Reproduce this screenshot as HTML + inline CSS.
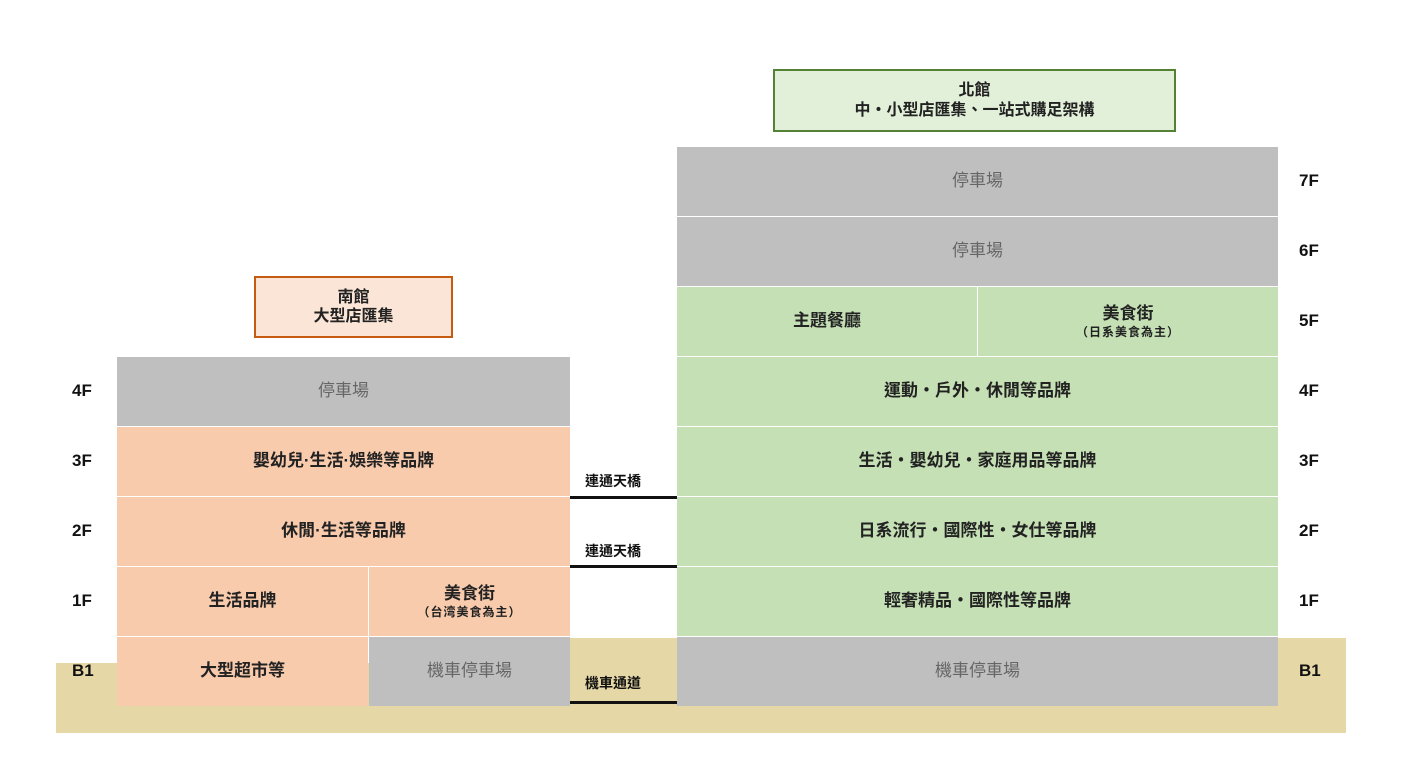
<!DOCTYPE html>
<html><head><meta charset="utf-8"><style>
html,body{margin:0;padding:0;background:#fff;}
body{width:1427px;height:757px;position:relative;overflow:hidden;font-family:"Liberation Sans","Noto Sans CJK TC",sans-serif;}
.a{position:absolute;box-sizing:border-box;display:flex;align-items:center;justify-content:center;flex-direction:column;text-align:center;color:#222;font-size:17px;font-weight:bold;line-height:1.2;}
.g{background:#bfbfbf;color:#666;font-weight:normal;font-size:17px;}
.o{background:#f8cbad;}
.n{background:#c5e0b4;}
.t{background:#e6d8a6;}
.s{font-size:12px;letter-spacing:1px;font-weight:bold;}
.lbl{position:absolute;font-size:17px;font-weight:bold;color:#111;font-family:"Liberation Sans",sans-serif;}
.br{position:absolute;font-size:14px;font-weight:bold;color:#111;}
.ln{position:absolute;height:3px;background:#111;}
</style></head><body>
<!-- ground -->
<div class="a t" style="left:56px;top:663px;width:1290px;height:70px;"></div>
<div class="a t" style="left:570px;top:638px;width:776px;height:30px;"></div>

<!-- header boxes -->
<div class="a" style="left:254px;top:276px;width:199px;height:62px;background:#fbe5d6;border:2px solid #c55a11;font-size:16px;">南館<br>大型店匯集</div>
<div class="a" style="left:773px;top:69px;width:403px;height:63px;background:#e2f0d9;border:2px solid #548235;font-size:16px;">北館<br>中・小型店匯集、一站式購足架構</div>

<!-- south building -->
<div class="a g" style="left:117px;top:357px;width:453px;height:69px;">停車場</div>
<div class="a o" style="left:117px;top:427px;width:453px;height:69px;">嬰幼兒·生活·娛樂等品牌</div>
<div class="a o" style="left:117px;top:497px;width:453px;height:69px;">休閒·生活等品牌</div>
<div class="a o" style="left:117px;top:567px;width:251px;height:69px;">生活品牌</div>
<div class="a o" style="left:369px;top:567px;width:201px;height:69px;">美食街<span class="s">（台湾美食為主）</span></div>
<div class="a o" style="left:117px;top:637px;width:251px;height:69px;">大型超市等</div>
<div class="a g" style="left:369px;top:637px;width:201px;height:69px;">機車停車場</div>

<!-- north building -->
<div class="a g" style="left:677px;top:147px;width:601px;height:69px;">停車場</div>
<div class="a g" style="left:677px;top:217px;width:601px;height:69px;">停車場</div>
<div class="a n" style="left:677px;top:287px;width:300px;height:69px;">主題餐廳</div>
<div class="a n" style="left:978px;top:287px;width:300px;height:69px;">美食街<span class="s">（日系美食為主）</span></div>
<div class="a n" style="left:677px;top:357px;width:601px;height:69px;">運動・戶外・休閒等品牌</div>
<div class="a n" style="left:677px;top:427px;width:601px;height:69px;">生活・嬰幼兒・家庭用品等品牌</div>
<div class="a n" style="left:677px;top:497px;width:601px;height:69px;">日系流行・國際性・女仕等品牌</div>
<div class="a n" style="left:677px;top:567px;width:601px;height:69px;">輕奢精品・國際性等品牌</div>
<div class="a g" style="left:677px;top:637px;width:601px;height:69px;">機車停車場</div>

<!-- bridges -->
<div class="br" style="left:585px;top:471px;">連通天橋</div>
<div class="ln" style="left:570px;top:496px;width:107px;"></div>
<div class="br" style="left:585px;top:541px;">連通天橋</div>
<div class="ln" style="left:570px;top:565px;width:107px;"></div>
<div class="br" style="left:585px;top:673px;">機車通道</div>
<div class="ln" style="left:570px;top:701px;width:107px;"></div>

<!-- floor labels left -->
<div class="lbl" style="left:72px;top:381px;">4F</div>
<div class="lbl" style="left:72px;top:451px;">3F</div>
<div class="lbl" style="left:72px;top:521px;">2F</div>
<div class="lbl" style="left:72px;top:591px;">1F</div>
<div class="lbl" style="left:72px;top:661px;">B1</div>
<!-- floor labels right -->
<div class="lbl" style="left:1299px;top:171px;">7F</div>
<div class="lbl" style="left:1299px;top:241px;">6F</div>
<div class="lbl" style="left:1299px;top:311px;">5F</div>
<div class="lbl" style="left:1299px;top:381px;">4F</div>
<div class="lbl" style="left:1299px;top:451px;">3F</div>
<div class="lbl" style="left:1299px;top:521px;">2F</div>
<div class="lbl" style="left:1299px;top:591px;">1F</div>
<div class="lbl" style="left:1299px;top:661px;">B1</div>
</body></html>
